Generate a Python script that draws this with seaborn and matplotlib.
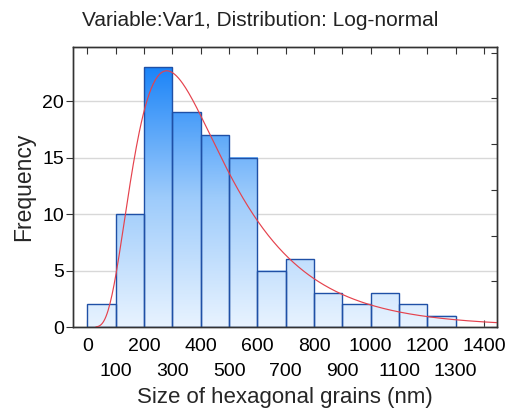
import numpy as np
import matplotlib
matplotlib.use('Agg')
import matplotlib.pyplot as plt
from matplotlib.colors import LinearSegmentedColormap
import seaborn as sns

# Histogram data (bin width 100 nm)
bin_left = [0, 100, 200, 300, 400, 500, 600, 700, 800, 900, 1000, 1100, 1200]
counts = [2, 10, 23, 19, 17, 15, 5, 6, 3, 2, 3, 2, 1]
bin_edges = [0, 100, 200, 300, 400, 500, 600, 700, 800, 900, 1000, 1100, 1200, 1300]

# Fitted log-normal parameters (estimated from the red curve)
LN_MU = 5.965
LN_SIGMA = 0.575
BIN_WIDTH = 100

x_ticks_row1 = [0, 200, 400, 600, 800, 1000, 1200, 1400]
x_ticks_row2 = [100, 300, 500, 700, 900, 1100, 1300]
y_ticks = [0, 5, 10, 15, 20]

sns.set_style('white')
plt.rcParams['font.family'] = ['Liberation Sans', 'DejaVu Sans']

fig = plt.figure(figsize=(5.07, 4.16), dpi=100)
ax = fig.add_axes([73 / 507, 1 - 327 / 416, (497 - 73) / 507, (327 - 47) / 416])

centers = [b + BIN_WIDTH / 2 for b in bin_left]
sns.histplot(x=centers, weights=counts, bins=bin_edges, ax=ax,
             edgecolor='#1f50a6', linewidth=1.0, facecolor='none', zorder=2)

# gradient fill inside every bar (dark blue at top of tallest, light at base)
cmap = LinearSegmentedColormap.from_list('bars', ['#e8f3ff', '#9dcbfb', '#1b84f8'])
top_val = max(counts)
for p in ax.patches:
    p.set_facecolor('none')
    x0, w, h = p.get_x(), p.get_width(), p.get_height()
    if h <= 0:
        continue
    grad = np.linspace(0, h / top_val, 256).reshape(-1, 1)
    ax.imshow(grad, extent=[x0, x0 + w, 0, h], origin='lower', aspect='auto',
              cmap=cmap, vmin=0, vmax=1, zorder=1.5, interpolation='bilinear')

# log-normal curve scaled to counts
n_total = sum(counts)
xs = np.linspace(30, 1450, 400)
pdf = np.exp(-(np.log(xs) - LN_MU) ** 2 / (2 * LN_SIGMA ** 2)) / (xs * LN_SIGMA * np.sqrt(2 * np.pi))
sns.lineplot(x=xs, y=pdf * n_total * BIN_WIDTH, ax=ax, color='#e5424d', linewidth=0.85, zorder=3)

ax.set_xlim(-51, 1446)
ax.set_ylim(0, 24.8)
ax.set_axisbelow(True)
ax.yaxis.grid(True, color='#d8d8d8', linewidth=1.0)
ax.xaxis.grid(False)

# two rows of x labels: even hundreds on major ticks, odd hundreds on minor ticks
ax.set_xticks(x_ticks_row1)
ax.set_xticklabels([str(v) for v in x_ticks_row1], fontsize=14)
ax.set_xticks(x_ticks_row2, minor=True)
ax.set_xticklabels([str(v) for v in x_ticks_row2], minor=True, fontsize=14)
ax.tick_params(axis='x', which='major', direction='in', length=5, width=0.8, top=True,
               bottom=True, pad=8, colors='#333333', labelcolor='black')
ax.tick_params(axis='x', which='minor', direction='in', length=5, width=0.8, top=True,
               bottom=True, pad=26, colors='#333333', labelcolor='black')
ax.set_yticks(y_ticks)
ax.set_yticklabels([str(v) for v in y_ticks], fontsize=14)
ax.tick_params(axis='y', direction='out', length=5, width=0.8, pad=1.5,
               colors='#333333', labelcolor='black')

# right side inward ticks (secondary scale, no labels)
ax2 = ax.twinx()
ax2.set_ylim(0, 24.8)
ax2.set_yticks([4.05 * k for k in range(7)])
ax2.set_yticklabels([])
ax2.tick_params(axis='y', direction='in', length=4, width=0.8, colors='#333333')

for a in (ax, ax2):
    for s in a.spines.values():
        s.set_color('#333333')
        s.set_linewidth(1.0)

ax.set_xlabel('Size of hexagonal grains (nm)', fontsize=16, labelpad=5)
ax.set_ylabel('Frequency', fontsize=16.5, labelpad=5)
fig.text(82 / 507, 1 - 20 / 416, 'Variable:Var1, Distribution: Log-normal',
         fontsize=15, ha='left', va='center', color='#222222')

fig.savefig('out.png', dpi=100)
